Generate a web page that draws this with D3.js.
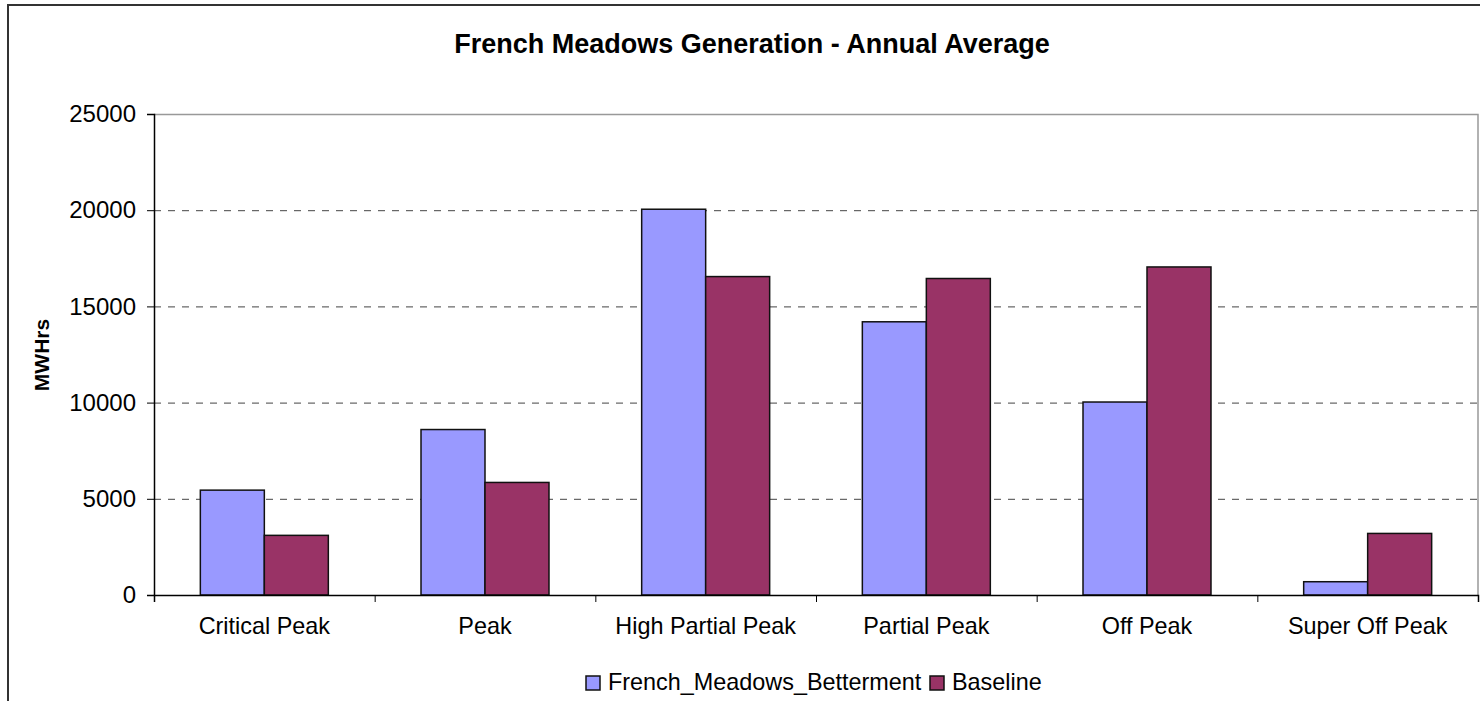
<!DOCTYPE html>
<html>
<head>
<meta charset="utf-8">
<script src="https://cdn.jsdelivr.net/npm/d3@7/dist/d3.min.js"></script>
<style>
  body { margin: 0; background: #fff; }
  svg { display: block; font-family: 'Liberation Sans', Arial, sans-serif; }
</style>
</head>
<body>
<svg id="chart"></svg>
<script>
const categories = ['Critical Peak', 'Peak', 'High Partial Peak', 'Partial Peak', 'Off Peak', 'Super Off Peak'];
const seriesNames = ['French_Meadows_Betterment', 'Baseline'];
const betterment = [5450, 8600, 20050, 14200, 10030, 690];
const baseline = [3100, 5850, 16550, 16450, 17050, 3200];
const yTicks = [0, 5000, 10000, 15000, 20000, 25000];
const colors = ['#9999ff', '#993366'];

(() => {
  const width = 1480;
  const height = 701;
  const margin = { top: 114, right: 2, bottom: 106, left: 154 };
  const innerW = width - margin.left - margin.right;
  const innerH = height - margin.top - margin.bottom;

  const svg = d3.select('svg#chart')
    .attr('width', width)
    .attr('height', height);

  // outer chart frame
  svg.append('rect')
    .attr('x', 8)
    .attr('y', 5)
    .attr('width', width)
    .attr('height', height)
    .attr('fill', 'none')
    .attr('stroke', '#333')
    .attr('stroke-width', 2);

  svg.append('text')
    .attr('x', 752)
    .attr('y', 53)
    .attr('text-anchor', 'middle')
    .style('font-size', '27px')
    .style('font-weight', 'bold')
    .text('French Meadows Generation - Annual Average');

  const g = svg.append('g')
    .attr('transform', `translate(${margin.left},${margin.top})`);

  const data = categories.map((c, i) => ({ category: c, values: [betterment[i], baseline[i]] }));

  const x0 = d3.scaleBand()
    .domain(categories)
    .range([0, innerW])
    .paddingInner(0.42)
    .paddingOuter(0.21);

  const x1 = d3.scaleBand()
    .domain(seriesNames)
    .range([0, x0.bandwidth()]);

  const xTick = d3.scaleLinear()
    .domain([0, categories.length])
    .range([0, innerW]);

  const y = d3.scaleLinear()
    .domain([0, 25000])
    .range([innerH, 0]);

  // gridlines
  g.append('g')
    .selectAll('line')
    .data(yTicks.filter(t => t > 0 && t < 25000))
    .enter()
    .append('line')
      .attr('x1', 0)
      .attr('x2', innerW)
      .attr('y1', d => y(d) + 0.5)
      .attr('y2', d => y(d) + 0.5)
      .attr('stroke', '#444')
      .attr('stroke-width', 1)
      .attr('stroke-dasharray', '7,7');

  // plot frame top/right
  g.append('path')
    .attr('d', `M0,${y(25000) + 0.5}H${innerW}V${innerH}`)
    .attr('fill', 'none')
    .attr('stroke', '#999')
    .attr('stroke-width', 1.5);

  // bars
  const groups = g.selectAll('g.group')
    .data(data)
    .enter()
    .append('g')
    .attr('class', 'group')
    .attr('transform', d => `translate(${x0(d.category)},0)`);

  groups.selectAll('rect')
    .data(d => d.values.map((v, i) => ({ key: seriesNames[i], value: v, i })))
    .enter()
    .append('rect')
      .attr('x', d => x1(d.key))
      .attr('width', x1.bandwidth())
      .attr('y', d => y(d.value))
      .attr('height', d => innerH - y(d.value))
      .attr('fill', d => colors[d.i])
      .attr('stroke', '#111')
      .attr('stroke-width', 1.5);

  // y axis
  const yAxis = g.append('g')
    .call(d3.axisLeft(y).tickValues(yTicks).tickSize(7).tickPadding(11).tickFormat(d3.format('d')));
  yAxis.select('.domain').attr('stroke', '#000').attr('stroke-width', 1.5);
  yAxis.selectAll('.tick line').attr('stroke', '#000');
  yAxis.selectAll('text').style('font-size', '24px').style('font-family', "'Liberation Sans', Arial, sans-serif").attr('fill', '#000');

  // x axis: ticks between categories
  const xAxis = g.append('g')
    .attr('transform', `translate(0,${innerH})`)
    .call(d3.axisBottom(xTick).tickValues(d3.range(categories.length + 1)).tickSize(7).tickFormat(''));
  xAxis.select('.domain').attr('stroke', '#000').attr('stroke-width', 1.5);
  xAxis.selectAll('.tick line').attr('stroke', '#000');

  g.append('g')
    .selectAll('text')
    .data(categories)
    .enter()
    .append('text')
      .attr('x', d => x0(d) + x0.bandwidth() / 2)
      .attr('y', innerH + 39)
      .attr('text-anchor', 'middle')
      .style('font-size', '23.4px')
      .text(d => d);

  // y label
  svg.append('text')
    .attr('transform', 'translate(49,355) rotate(-90)')
    .attr('text-anchor', 'middle')
    .style('font-size', '21px')
    .style('font-weight', 'bold')
    .text('MWHrs');

  // legend
  const legend = svg.append('g').attr('transform', 'translate(586,676)');
  const lx = [0, 344];
  seriesNames.forEach((name, i) => {
    const item = legend.append('g').attr('transform', `translate(${lx[i]},0)`);
    item.append('rect')
      .attr('width', 14)
      .attr('height', 14)
      .attr('fill', colors[i])
      .attr('stroke', '#111')
      .attr('stroke-width', 1.5);
    item.append('text')
      .attr('x', 22)
      .attr('y', 14)
      .style('font-size', '23.4px')
      .text(name);
  });
})();
</script>
</body>
</html>
